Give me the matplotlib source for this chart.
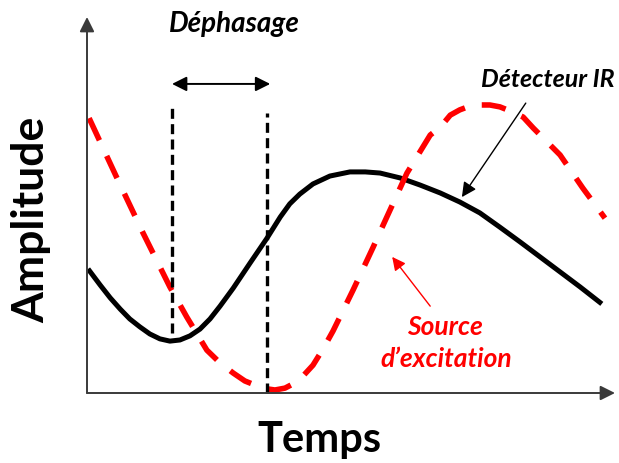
import matplotlib
matplotlib.use("Agg")
import matplotlib.pyplot as plt

plt.rcParams['font.family'] = ['Lato', 'DejaVu Sans']

# Réponse du détecteur IR (temps, amplitude)
t_detecteur = [0.02, 0.25, 0.44, 0.63, 0.81, 1.00, 1.19, 1.38, 1.57, 1.76,
               1.95, 2.14, 2.33, 2.52, 2.77, 3.09, 3.41, 3.66, 3.84, 4.03,
               4.28, 4.60, 4.98, 5.27, 5.55, 5.93, 6.31, 6.69, 7.06, 7.44,
               7.82, 8.20, 8.58, 8.96, 9.34, 9.75]
a_detecteur = [3.30, 2.87, 2.53, 2.23, 1.97, 1.76, 1.57, 1.44, 1.38, 1.41,
               1.52, 1.70, 1.97, 2.31, 2.79, 3.46, 4.12, 4.68, 5.03, 5.29,
               5.56, 5.77, 5.88, 5.88, 5.85, 5.72, 5.53, 5.32, 5.08, 4.79,
               4.41, 4.02, 3.62, 3.22, 2.82, 2.37]

# Source d'excitation
t_source = [0.04, 0.55, 1.06, 1.57, 1.89, 2.27, 2.52, 2.77, 2.99, 3.22,
            3.41, 3.56, 3.75, 3.90, 4.09, 4.28, 4.47, 4.66, 5.04, 5.42,
            5.61, 6.06, 6.50, 6.69, 6.88, 7.06, 7.25, 7.44, 7.63, 7.82,
            8.07, 8.26, 8.45, 8.96, 9.39, 9.81]
a_source = [7.31, 5.77, 4.26, 2.82, 2.02, 1.14, 0.80, 0.53, 0.32, 0.19,
            0.11, 0.08, 0.13, 0.24, 0.45, 0.74, 1.17, 1.65, 2.74, 3.88,
            4.47, 5.85, 6.86, 7.07, 7.39, 7.53, 7.63, 7.66, 7.66, 7.61,
            7.47, 7.34, 7.05, 6.33, 5.45, 4.65]

# repères du déphasage
t_repere1, t_repere2 = 1.61, 3.41

fig = plt.figure(figsize=(6.19, 4.63), dpi=100)
ax = fig.add_axes([87 / 619, 70 / 463, 528 / 619, 376 / 463])
ax.set_xlim(0, 10)
ax.set_ylim(0, 10)
ax.axis('off')

# axes avec flèches
axe_style = dict(arrowstyle='-|>', mutation_scale=22, lw=1.4, color='#3a3a3a',
                 shrinkA=0, shrinkB=0)
ax.annotate('', xy=(10, 0), xytext=(0, 0), arrowprops=axe_style, annotation_clip=False)
ax.annotate('', xy=(0, 10), xytext=(0, 0), arrowprops=axe_style, annotation_clip=False)

ax.plot(t_detecteur, a_detecteur, color='black', lw=3.6, solid_joinstyle='round',
        solid_capstyle='butt', clip_on=False)
ax.plot(t_source, a_source, color='#ff0000', lw=4.0, dashes=(4.4, 3.1),
        dash_capstyle='butt', dash_joinstyle='round', clip_on=False)

ax.plot([t_repere1, t_repere1], [1.60, 7.61], color='black', lw=2.4,
        dashes=(3.0, 1.6), clip_on=False)
ax.plot([t_repere2, t_repere2], [0.0, 7.45], color='black', lw=2.4,
        dashes=(3.0, 1.6), clip_on=False)

ax.annotate('', xy=(t_repere1, 8.22), xytext=(3.47, 8.22),
            arrowprops=dict(arrowstyle='<|-|>', mutation_scale=22, lw=1.4,
                            color='black', shrinkA=0, shrinkB=0))
ax.text(2.80, 9.60, 'Déphasage', ha='center', va='baseline', fontsize=20,
        fontweight='bold', fontstyle='italic', color='black')

ax.annotate('', xy=(7.10, 5.21), xytext=(8.31, 7.71),
            arrowprops=dict(arrowstyle='-|>', mutation_scale=22, lw=1.0,
                            color='black', shrinkA=0, shrinkB=0))
ax.text(8.73, 8.14, 'Détecteur IR', ha='center', va='baseline', fontsize=18,
        fontweight='bold', fontstyle='italic', color='black', clip_on=False)

ax.annotate('', xy=(5.78, 3.62), xytext=(6.50, 2.31),
            arrowprops=dict(arrowstyle='-|>', mutation_scale=20, lw=1.0,
                            color='#ff0000', shrinkA=0, shrinkB=0))
ax.text(6.78, 1.54, 'Source', ha='center', va='baseline', fontsize=19,
        fontweight='bold', fontstyle='italic', color='#ff0000')
ax.text(6.80, 0.69, 'd\u2019excitation', ha='center', va='baseline', fontsize=19,
        fontweight='bold', fontstyle='italic', color='#ff0000')

fig.text(319 / 619, 11 / 463, 'Temps', ha='center', va='baseline',
         fontsize=30, fontweight='bold')
fig.text(31 / 619, 243 / 463, 'Amplitude', ha='center', va='center',
         rotation=90, fontsize=32, fontweight='bold')

fig.savefig('out.png', dpi=100)
